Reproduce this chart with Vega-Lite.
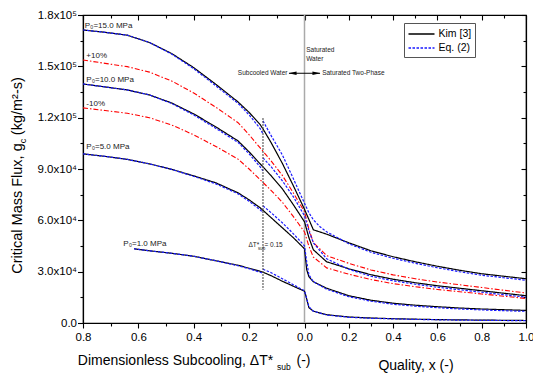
{
"$schema": "https://vega.github.io/schema/vega-lite/v6.json",
"width": 443, "height": 308,
"autosize": {"type": "none"},
"padding": {"left": 83, "top": 15, "right": 7, "bottom": 51},
"config": {"font": "Liberation Sans", "view": {"stroke": "black", "strokeWidth": 1.2},
  "axis": {"grid": false, "domainColor": "black", "domainWidth": 1.2, "tickColor": "black", "tickWidth": 1.1, "labelColor": "black", "titleColor": "black", "titleFontWeight": "normal", "labelFont": "Liberation Sans", "titleFont": "Liberation Sans", "labelFlush": false, "labelOverlap": false}},
"title": {"text": "sub", "frame": "group", "anchor": "start", "orient": "top", "offset": 0, "dx": 194, "dy": 369, "fontSize": 8.5, "fontWeight": "normal", "baseline": "alphabetic", "color": "black"},
"datasets": {
"main": [
{"m":"Kim [3]","s":"K15","u":-1,"g":171229},{"m":"Kim [3]","s":"K15","u":-0.9,"g":169886},{"m":"Kim [3]","s":"K15","u":-0.8,"g":168193},{"m":"Kim [3]","s":"K15","u":-0.7,"g":163931},{"m":"Kim [3]","s":"K15","u":-0.6,"g":157510},{"m":"Kim [3]","s":"K15","u":-0.5,"g":149217},{"m":"Kim [3]","s":"K15","u":-0.4,"g":139470},{"m":"Kim [3]","s":"K15","u":-0.3,"g":129193},{"m":"Kim [3]","s":"K15","u":-0.25,"g":123065},{"m":"Kim [3]","s":"K15","u":-0.2,"g":115924},{"m":"Kim [3]","s":"K15","u":-0.1875,"g":113432},{"m":"Kim [3]","s":"K15","u":-0.15,"g":105260},{"m":"Kim [3]","s":"K15","u":-0.1,"g":93292},{"m":"Kim [3]","s":"K15","u":-0.05,"g":80106},{"m":"Kim [3]","s":"K15","u":0,"g":66437},{"m":"Kim [3]","s":"K15","u":0.04,"g":54469},{"m":"Kim [3]","s":"K15","u":0.1,"g":51900},{"m":"Kim [3]","s":"K15","u":0.2,"g":46879},{"m":"Kim [3]","s":"K15","u":0.3,"g":42209},{"m":"Kim [3]","s":"K15","u":0.4,"g":38706},{"m":"Kim [3]","s":"K15","u":0.5,"g":35787},{"m":"Kim [3]","s":"K15","u":0.6,"g":33160},{"m":"Kim [3]","s":"K15","u":0.7,"g":30825},{"m":"Kim [3]","s":"K15","u":0.8,"g":28781},{"m":"Kim [3]","s":"K15","u":0.9,"g":27322},{"m":"Kim [3]","s":"K15","u":1,"g":25862},
{"m":"Kim [3]","s":"K10","u":-1,"g":139703},{"m":"Kim [3]","s":"K10","u":-0.9,"g":137951},{"m":"Kim [3]","s":"K10","u":-0.8,"g":136201},{"m":"Kim [3]","s":"K10","u":-0.7,"g":133282},{"m":"Kim [3]","s":"K10","u":-0.6,"g":128611},{"m":"Kim [3]","s":"K10","u":-0.5,"g":122190},{"m":"Kim [3]","s":"K10","u":-0.4,"g":114600},{"m":"Kim [3]","s":"K10","u":-0.3,"g":106427},{"m":"Kim [3]","s":"K10","u":-0.25,"g":100005},{"m":"Kim [3]","s":"K10","u":-0.2,"g":93000},{"m":"Kim [3]","s":"K10","u":-0.1875,"g":91248},{"m":"Kim [3]","s":"K10","u":-0.15,"g":85994},{"m":"Kim [3]","s":"K10","u":-0.1,"g":78404},{"m":"Kim [3]","s":"K10","u":-0.05,"g":69063},{"m":"Kim [3]","s":"K10","u":0,"g":59139},{"m":"Kim [3]","s":"K10","u":0.02,"g":49798},{"m":"Kim [3]","s":"K10","u":0.04,"g":42793},{"m":"Kim [3]","s":"K10","u":0.1,"g":35787},{"m":"Kim [3]","s":"K10","u":0.2,"g":31700},{"m":"Kim [3]","s":"K10","u":0.3,"g":28197},{"m":"Kim [3]","s":"K10","u":0.4,"g":25570},{"m":"Kim [3]","s":"K10","u":0.5,"g":23527},{"m":"Kim [3]","s":"K10","u":0.6,"g":21775},{"m":"Kim [3]","s":"K10","u":0.7,"g":20316},{"m":"Kim [3]","s":"K10","u":0.8,"g":18857},{"m":"Kim [3]","s":"K10","u":0.9,"g":17397},{"m":"Kim [3]","s":"K10","u":1,"g":15938},
{"m":"Kim [3]","s":"K5","u":-1,"g":98837},{"m":"Kim [3]","s":"K5","u":-0.9,"g":97378},{"m":"Kim [3]","s":"K5","u":-0.8,"g":95626},{"m":"Kim [3]","s":"K5","u":-0.7,"g":92999},{"m":"Kim [3]","s":"K5","u":-0.6,"g":89788},{"m":"Kim [3]","s":"K5","u":-0.5,"g":85993},{"m":"Kim [3]","s":"K5","u":-0.4,"g":81907},{"m":"Kim [3]","s":"K5","u":-0.3,"g":76069},{"m":"Kim [3]","s":"K5","u":-0.25,"g":71983},{"m":"Kim [3]","s":"K5","u":-0.2,"g":67312},{"m":"Kim [3]","s":"K5","u":-0.1875,"g":65853},{"m":"Kim [3]","s":"K5","u":-0.15,"g":61474},{"m":"Kim [3]","s":"K5","u":-0.1,"g":55636},{"m":"Kim [3]","s":"K5","u":-0.05,"g":49798},{"m":"Kim [3]","s":"K5","u":0,"g":43376},{"m":"Kim [3]","s":"K5","u":0.01,"g":31117},{"m":"Kim [3]","s":"K5","u":0.02,"g":27030},{"m":"Kim [3]","s":"K5","u":0.04,"g":24111},{"m":"Kim [3]","s":"K5","u":0.1,"g":20316},{"m":"Kim [3]","s":"K5","u":0.2,"g":15938},{"m":"Kim [3]","s":"K5","u":0.3,"g":13311},{"m":"Kim [3]","s":"K5","u":0.4,"g":11559},{"m":"Kim [3]","s":"K5","u":0.5,"g":10392},{"m":"Kim [3]","s":"K5","u":0.6,"g":9516},{"m":"Kim [3]","s":"K5","u":0.7,"g":8757},{"m":"Kim [3]","s":"K5","u":0.8,"g":8173},{"m":"Kim [3]","s":"K5","u":0.9,"g":7765},{"m":"Kim [3]","s":"K5","u":1,"g":7356},
{"m":"Kim [3]","s":"K1","u":-0.77,"g":43376},{"m":"Kim [3]","s":"K1","u":-0.7,"g":42209},{"m":"Kim [3]","s":"K1","u":-0.6,"g":40749},{"m":"Kim [3]","s":"K1","u":-0.5,"g":38998},{"m":"Kim [3]","s":"K1","u":-0.4,"g":36371},{"m":"Kim [3]","s":"K1","u":-0.3,"g":33744},{"m":"Kim [3]","s":"K1","u":-0.25,"g":31992},{"m":"Kim [3]","s":"K1","u":-0.2,"g":30241},{"m":"Kim [3]","s":"K1","u":-0.1875,"g":29657},{"m":"Kim [3]","s":"K1","u":-0.15,"g":27614},{"m":"Kim [3]","s":"K1","u":-0.1,"g":24403},{"m":"Kim [3]","s":"K1","u":-0.05,"g":21484},{"m":"Kim [3]","s":"K1","u":0,"g":18565},{"m":"Kim [3]","s":"K1","u":0.005,"g":16522},{"m":"Kim [3]","s":"K1","u":0.02,"g":8932},{"m":"Kim [3]","s":"K1","u":0.04,"g":6889},{"m":"Kim [3]","s":"K1","u":0.1,"g":4845},{"m":"Kim [3]","s":"K1","u":0.2,"g":3503},{"m":"Kim [3]","s":"K1","u":0.3,"g":2919},{"m":"Kim [3]","s":"K1","u":0.4,"g":2510},{"m":"Kim [3]","s":"K1","u":0.5,"g":2218},{"m":"Kim [3]","s":"K1","u":0.6,"g":1985},{"m":"Kim [3]","s":"K1","u":0.7,"g":1810},{"m":"Kim [3]","s":"K1","u":0.8,"g":1693},{"m":"Kim [3]","s":"K1","u":0.9,"g":1576},{"m":"Kim [3]","s":"K1","u":1,"g":1460},
{"m":"Eq. (2)","s":"E15a","u":-1,"g":171229},{"m":"Eq. (2)","s":"E15a","u":-0.9,"g":169886},{"m":"Eq. (2)","s":"E15a","u":-0.8,"g":168193},{"m":"Eq. (2)","s":"E15a","u":-0.7,"g":163931},{"m":"Eq. (2)","s":"E15a","u":-0.6,"g":157218},{"m":"Eq. (2)","s":"E15a","u":-0.5,"g":148633},{"m":"Eq. (2)","s":"E15a","u":-0.4,"g":138594},{"m":"Eq. (2)","s":"E15a","u":-0.3,"g":128317},{"m":"Eq. (2)","s":"E15a","u":-0.25,"g":121605},{"m":"Eq. (2)","s":"E15a","u":-0.2,"g":113589},{"m":"Eq. (2)","s":"E15a","u":-0.1875,"g":110513},
{"m":"Eq. (2)","s":"E15b","u":-0.1875,"g":118105},{"m":"Eq. (2)","s":"E15b","u":-0.15,"g":109348},{"m":"Eq. (2)","s":"E15b","u":-0.1,"g":98256},{"m":"Eq. (2)","s":"E15b","u":-0.05,"g":84243},{"m":"Eq. (2)","s":"E15b","u":0,"g":69939},{"m":"Eq. (2)","s":"E15b","u":0.02,"g":64393},{"m":"Eq. (2)","s":"E15b","u":0.04,"g":60306},{"m":"Eq. (2)","s":"E15b","u":0.07,"g":56220},{"m":"Eq. (2)","s":"E15b","u":0.1,"g":53301},{"m":"Eq. (2)","s":"E15b","u":0.15,"g":49798},{"m":"Eq. (2)","s":"E15b","u":0.2,"g":46295},{"m":"Eq. (2)","s":"E15b","u":0.3,"g":41333},{"m":"Eq. (2)","s":"E15b","u":0.4,"g":37830},{"m":"Eq. (2)","s":"E15b","u":0.5,"g":34911},{"m":"Eq. (2)","s":"E15b","u":0.6,"g":32284},{"m":"Eq. (2)","s":"E15b","u":0.7,"g":29949},{"m":"Eq. (2)","s":"E15b","u":0.8,"g":27906},{"m":"Eq. (2)","s":"E15b","u":0.9,"g":26446},{"m":"Eq. (2)","s":"E15b","u":1,"g":24986},
{"m":"Eq. (2)","s":"E10a","u":-1,"g":139703},{"m":"Eq. (2)","s":"E10a","u":-0.9,"g":137951},{"m":"Eq. (2)","s":"E10a","u":-0.8,"g":136201},{"m":"Eq. (2)","s":"E10a","u":-0.7,"g":133282},{"m":"Eq. (2)","s":"E10a","u":-0.6,"g":128319},{"m":"Eq. (2)","s":"E10a","u":-0.5,"g":121606},{"m":"Eq. (2)","s":"E10a","u":-0.4,"g":113724},{"m":"Eq. (2)","s":"E10a","u":-0.3,"g":105551},{"m":"Eq. (2)","s":"E10a","u":-0.25,"g":98837},{"m":"Eq. (2)","s":"E10a","u":-0.2,"g":91248},{"m":"Eq. (2)","s":"E10a","u":-0.1875,"g":88912},
{"m":"Eq. (2)","s":"E10b","u":-0.1875,"g":96502},{"m":"Eq. (2)","s":"E10b","u":-0.15,"g":91248},{"m":"Eq. (2)","s":"E10b","u":-0.1,"g":83075},{"m":"Eq. (2)","s":"E10b","u":-0.05,"g":73734},{"m":"Eq. (2)","s":"E10b","u":0,"g":62641},{"m":"Eq. (2)","s":"E10b","u":0.02,"g":53884},{"m":"Eq. (2)","s":"E10b","u":0.04,"g":46879},{"m":"Eq. (2)","s":"E10b","u":0.1,"g":37538},{"m":"Eq. (2)","s":"E10b","u":0.2,"g":31408},{"m":"Eq. (2)","s":"E10b","u":0.3,"g":27322},{"m":"Eq. (2)","s":"E10b","u":0.4,"g":24695},{"m":"Eq. (2)","s":"E10b","u":0.5,"g":22651},{"m":"Eq. (2)","s":"E10b","u":0.6,"g":20900},{"m":"Eq. (2)","s":"E10b","u":0.7,"g":19440},{"m":"Eq. (2)","s":"E10b","u":0.8,"g":17981},{"m":"Eq. (2)","s":"E10b","u":0.9,"g":16521},{"m":"Eq. (2)","s":"E10b","u":1,"g":15062},
{"m":"Eq. (2)","s":"E5a","u":-1,"g":98837},{"m":"Eq. (2)","s":"E5a","u":-0.9,"g":97378},{"m":"Eq. (2)","s":"E5a","u":-0.8,"g":95626},{"m":"Eq. (2)","s":"E5a","u":-0.7,"g":92999},{"m":"Eq. (2)","s":"E5a","u":-0.6,"g":89788},{"m":"Eq. (2)","s":"E5a","u":-0.5,"g":85701},{"m":"Eq. (2)","s":"E5a","u":-0.4,"g":81323},{"m":"Eq. (2)","s":"E5a","u":-0.3,"g":75486},{"m":"Eq. (2)","s":"E5a","u":-0.25,"g":71107},{"m":"Eq. (2)","s":"E5a","u":-0.2,"g":66145},{"m":"Eq. (2)","s":"E5a","u":-0.1875,"g":64393},
{"m":"Eq. (2)","s":"E5b","u":-0.1875,"g":68480},{"m":"Eq. (2)","s":"E5b","u":-0.15,"g":64393},{"m":"Eq. (2)","s":"E5b","u":-0.1,"g":58554},{"m":"Eq. (2)","s":"E5b","u":-0.05,"g":52132},{"m":"Eq. (2)","s":"E5b","u":0,"g":45128},{"m":"Eq. (2)","s":"E5b","u":0.01,"g":35787},{"m":"Eq. (2)","s":"E5b","u":0.02,"g":28197},{"m":"Eq. (2)","s":"E5b","u":0.04,"g":24111},{"m":"Eq. (2)","s":"E5b","u":0.1,"g":19732},{"m":"Eq. (2)","s":"E5b","u":0.2,"g":15354},{"m":"Eq. (2)","s":"E5b","u":0.3,"g":12727},{"m":"Eq. (2)","s":"E5b","u":0.4,"g":10975},{"m":"Eq. (2)","s":"E5b","u":0.5,"g":9808},{"m":"Eq. (2)","s":"E5b","u":0.6,"g":8932},{"m":"Eq. (2)","s":"E5b","u":0.7,"g":8231},{"m":"Eq. (2)","s":"E5b","u":0.8,"g":7648},{"m":"Eq. (2)","s":"E5b","u":0.9,"g":7181},{"m":"Eq. (2)","s":"E5b","u":1,"g":6830},
{"m":"Eq. (2)","s":"E1a","u":-0.77,"g":43376},{"m":"Eq. (2)","s":"E1a","u":-0.7,"g":42209},{"m":"Eq. (2)","s":"E1a","u":-0.6,"g":40749},{"m":"Eq. (2)","s":"E1a","u":-0.5,"g":38998},{"m":"Eq. (2)","s":"E1a","u":-0.4,"g":36371},{"m":"Eq. (2)","s":"E1a","u":-0.3,"g":33452},{"m":"Eq. (2)","s":"E1a","u":-0.25,"g":31700},{"m":"Eq. (2)","s":"E1a","u":-0.2,"g":29657},{"m":"Eq. (2)","s":"E1a","u":-0.1875,"g":29073},
{"m":"Eq. (2)","s":"E1b","u":-0.1875,"g":31408},{"m":"Eq. (2)","s":"E1b","u":-0.15,"g":29365},{"m":"Eq. (2)","s":"E1b","u":-0.1,"g":25862},{"m":"Eq. (2)","s":"E1b","u":-0.05,"g":22360},{"m":"Eq. (2)","s":"E1b","u":0,"g":18857},{"m":"Eq. (2)","s":"E1b","u":0.005,"g":16522},{"m":"Eq. (2)","s":"E1b","u":0.02,"g":9516},{"m":"Eq. (2)","s":"E1b","u":0.04,"g":6889},{"m":"Eq. (2)","s":"E1b","u":0.1,"g":4670},{"m":"Eq. (2)","s":"E1b","u":0.2,"g":3328},{"m":"Eq. (2)","s":"E1b","u":0.3,"g":2744},{"m":"Eq. (2)","s":"E1b","u":0.5,"g":2102},{"m":"Eq. (2)","s":"E1b","u":0.7,"g":1693},{"m":"Eq. (2)","s":"E1b","u":1,"g":1343}
],
"red": [
{"s":"+10%","u":-1,"g":153673},{"s":"+10%","u":-0.9,"g":151746},{"s":"+10%","u":-0.8,"g":149821},{"s":"+10%","u":-0.7,"g":146610},{"s":"+10%","u":-0.6,"g":141472},{"s":"+10%","u":-0.5,"g":134409},{"s":"+10%","u":-0.4,"g":126060},{"s":"+10%","u":-0.3,"g":117070},{"s":"+10%","u":-0.25,"g":110006},{"s":"+10%","u":-0.2,"g":102300},{"s":"+10%","u":-0.15,"g":94593},{"s":"+10%","u":-0.1,"g":86244},{"s":"+10%","u":-0.05,"g":75969},{"s":"+10%","u":0,"g":65053},{"s":"+10%","u":0.02,"g":54778},{"s":"+10%","u":0.04,"g":47072},{"s":"+10%","u":0.1,"g":39366},{"s":"+10%","u":0.2,"g":34870},{"s":"+10%","u":0.3,"g":31017},{"s":"+10%","u":0.4,"g":28127},{"s":"+10%","u":0.5,"g":25880},{"s":"+10%","u":0.6,"g":23953},{"s":"+10%","u":0.7,"g":22348},{"s":"+10%","u":0.8,"g":20743},{"s":"+10%","u":0.9,"g":19137},{"s":"+10%","u":1,"g":17532},
{"s":"-10%","u":-1,"g":125733},{"s":"-10%","u":-0.9,"g":124156},{"s":"-10%","u":-0.8,"g":122581},{"s":"-10%","u":-0.7,"g":119954},{"s":"-10%","u":-0.6,"g":115750},{"s":"-10%","u":-0.5,"g":109971},{"s":"-10%","u":-0.4,"g":103140},{"s":"-10%","u":-0.3,"g":95784},{"s":"-10%","u":-0.25,"g":90005},{"s":"-10%","u":-0.2,"g":83700},{"s":"-10%","u":-0.15,"g":77395},{"s":"-10%","u":-0.1,"g":70564},{"s":"-10%","u":-0.05,"g":62157},{"s":"-10%","u":0,"g":53225},{"s":"-10%","u":0.02,"g":44818},{"s":"-10%","u":0.04,"g":38514},{"s":"-10%","u":0.1,"g":32208},{"s":"-10%","u":0.2,"g":28530},{"s":"-10%","u":0.3,"g":25377},{"s":"-10%","u":0.4,"g":23013},{"s":"-10%","u":0.5,"g":21174},{"s":"-10%","u":0.6,"g":19598},{"s":"-10%","u":0.7,"g":18284},{"s":"-10%","u":0.8,"g":16971},{"s":"-10%","u":0.9,"g":15657},{"s":"-10%","u":1,"g":14344}
],
"plab": [
{"u":-0.992,"g":173850,"t":"P₀=15.0 MPa"},{"u":-0.985,"g":155870,"t":"+10%"},{"u":-0.985,"g":141860,"t":"P₀=10.0 MPa"},{"u":-0.985,"g":127730,"t":"-10%"},{"u":-0.985,"g":102920,"t":"P₀=5.0 MPa"},{"u":-0.818,"g":46290,"t":"P₀=1.0 MPa"}
],
"small": [
{"u":0.0077,"g":159550,"t":"Saturated"},{"u":0.0077,"g":154480,"t":"Water"},{"u":0.0796,"g":145950,"t":"Saturated Two-Phase"}
]
},
"layer": [
{"data": {"values": [{"u": 0}]}, "mark": {"type": "rule", "color": "#aaaaaa", "strokeWidth": 1.5},
 "encoding": {"x": {"field": "u", "type": "quantitative", "scale": {"domain": [-1, 1], "nice": false, "zero": false}, "axis": null}}},
{"data": {"name": "red"}, "mark": {"type": "line", "color": "#ff0000", "strokeWidth": 1.1, "strokeDash": [5, 2, 1.5, 2]},
 "encoding": {
  "x": {"field": "u", "type": "quantitative", "scale": {"domain": [-1, 1], "nice": false, "zero": false},
    "axis": {"orient": "top", "values": [-1,-0.875,-0.75,-0.625,-0.5,-0.375,-0.25,-0.125,0,0.1,0.2,0.3,0.4,0.5,0.6,0.7,0.8,0.9,1], "labels": false,
      "tickSize": {"condition": {"test": "indexof([-0.875,-0.625,-0.375,-0.125,0.1,0.3,0.5,0.7,0.9], datum.value) >= 0", "value": -3}, "value": -5},
      "title": "Quality, x (-)", "titleFontSize": 14, "titleX": 332.5, "titleY": 354, "titleAlign": "center", "titleBaseline": "alphabetic", "titleAngle": 0}},
  "y": {"field": "g", "type": "quantitative", "scale": {"domain": [0, 180000], "nice": false, "zero": false},
    "axis": {"orient": "right", "values": [0,15000,30000,45000,60000,75000,90000,105000,120000,135000,150000,165000,180000], "labels": false,
      "tickSize": {"condition": {"test": "datum.value % 30000 != 0", "value": -3}, "value": -5},
      "title": "c", "titleFontSize": 9, "titleAngle": -90, "titleX": -504, "titleY": 125.5, "titleAlign": "center", "titleBaseline": "middle"}},
  "detail": {"field": "s"}}},
{"data": {"name": "main"}, "mark": {"type": "line", "strokeWidth": 1.2},
 "encoding": {
  "x": {"field": "u", "type": "quantitative", "scale": {"domain": [-1, 1], "nice": false, "zero": false},
    "axis": {"orient": "bottom", "values": [-1,-0.875,-0.75,-0.625,-0.5,-0.375,-0.25,-0.125,0,0.1,0.2,0.3,0.4,0.5,0.6,0.7,0.8,0.9,1],
      "labelExpr": "indexof([-0.875,-0.625,-0.375,-0.125,0.1,0.3,0.5,0.7,0.9], datum.value) >= 0 ? '' : (datum.value < 0 ? format(-datum.value*0.8, '.1f') : format(datum.value, '.1f'))",
      "tickSize": {"condition": {"test": "indexof([-0.875,-0.625,-0.375,-0.125,0.1,0.3,0.5,0.7,0.9], datum.value) >= 0", "value": 3}, "value": 5},
      "labelFontSize": 11.5, "labelPadding": 3.5,
      "title": "Dimensionless Subcooling, ΔT*\u00a0\u00a0\u00a0\u00a0\u00a0\u00a0(-)", "titleFontSize": 14, "titleAlign": "left", "titleX": -5.7, "titleY": 41.7, "titleBaseline": "alphabetic"}},
  "y": {"field": "g", "type": "quantitative", "scale": {"domain": [0, 180000], "nice": false, "zero": false},
    "axis": {"orient": "left", "values": [0,15000,30000,45000,60000,75000,90000,105000,120000,135000,150000,165000,180000],
      "labelExpr": "datum.value % 30000 != 0 ? '' : (datum.value == 0 ? '0.0' : (datum.value < 100000 ? format(datum.value/10000, '.1f') + 'x10⁴' : format(datum.value/100000, '.1f') + 'x10⁵'))",
      "tickSize": {"condition": {"test": "datum.value % 30000 != 0", "value": 3}, "value": 5.5},
      "labelFontSize": 11.5, "labelPadding": 1,
      "title": "Critical Mass Flux, g\u00a0\u00a0(kg/m²-s)", "titleFontSize": 14.5, "titleAngle": -90, "titleX": -66, "titleY": 160, "titleAlign": "center", "titleBaseline": "middle"}},
  "color": {"field": "m", "type": "nominal", "scale": {"domain": ["Kim [3]", "Eq. (2)"], "range": ["#000000", "#1a1aff"]},
    "legend": {"title": null, "orient": "none", "legendX": 321, "legendY": 8, "strokeColor": "#555555", "fillColor": "white", "padding": 3.5, "symbolType": "M-1,0L3,0", "symbolSize": 169, "symbolStrokeWidth": 1.3, "labelFontSize": 10.5, "labelColor": "black", "rowPadding": 1, "labelOffset": 16}},
  "strokeDash": {"field": "m", "type": "nominal", "scale": {"domain": ["Kim [3]", "Eq. (2)"], "range": [[1, 0], [2.5, 1.5]]},
    "legend": {"title": null, "orient": "none", "legendX": 321, "legendY": 8, "strokeColor": "#555555", "fillColor": "white", "padding": 3.5, "symbolType": "M-1,0L3,0", "symbolSize": 169, "symbolStrokeWidth": 1.3, "labelFontSize": 10.5, "labelColor": "black", "rowPadding": 1, "labelOffset": 16}},
  "detail": {"field": "s"}}},
{"data": {"values": [{"u": -0.1875, "g1": 119700, "g2": 19400}]}, "mark": {"type": "rule", "color": "#555555", "strokeWidth": 1.5, "strokeDash": [1.5, 1.5]},
 "encoding": {"x": {"field": "u", "type": "quantitative", "scale": {"domain": [-1, 1], "nice": false, "zero": false}, "axis": null},
  "y": {"field": "g1", "type": "quantitative", "scale": {"domain": [0, 180000], "nice": false, "zero": false}, "axis": null}, "y2": {"field": "g2"}}},
{"data": {"values": [{"u1": -0.07, "u2": 0.07, "g": 145950}]}, "mark": {"type": "rule", "color": "black", "strokeWidth": 1},
 "encoding": {"x": {"field": "u1", "type": "quantitative", "scale": {"domain": [-1, 1], "nice": false, "zero": false}, "axis": null}, "x2": {"field": "u2"},
  "y": {"field": "g", "type": "quantitative", "scale": {"domain": [0, 180000], "nice": false, "zero": false}, "axis": null}}},
{"data": {"values": [{"u": -0.054, "g": 145950}]}, "mark": {"type": "point", "shape": "M-1,0L1,-0.45L1,0.45Z", "filled": true, "color": "black", "size": 64, "opacity": 1},
 "encoding": {"x": {"field": "u", "type": "quantitative", "scale": {"domain": [-1, 1], "nice": false, "zero": false}, "axis": null},
  "y": {"field": "g", "type": "quantitative", "scale": {"domain": [0, 180000], "nice": false, "zero": false}, "axis": null}}},
{"data": {"values": [{"u": 0.054, "g": 145950}]}, "mark": {"type": "point", "shape": "M1,0L-1,-0.45L-1,0.45Z", "filled": true, "color": "black", "size": 64, "opacity": 1},
 "encoding": {"x": {"field": "u", "type": "quantitative", "scale": {"domain": [-1, 1], "nice": false, "zero": false}, "axis": null},
  "y": {"field": "g", "type": "quantitative", "scale": {"domain": [0, 180000], "nice": false, "zero": false}, "axis": null}}},
{"data": {"name": "plab"}, "mark": {"type": "text", "align": "left", "baseline": "middle", "fontSize": 8, "color": "#222222"},
 "encoding": {"x": {"field": "u", "type": "quantitative", "scale": {"domain": [-1, 1], "nice": false, "zero": false}, "axis": null},
  "y": {"field": "g", "type": "quantitative", "scale": {"domain": [0, 180000], "nice": false, "zero": false}, "axis": null}, "text": {"field": "t"}}},
{"data": {"name": "small"}, "mark": {"type": "text", "align": "left", "baseline": "middle", "fontSize": 6.5, "color": "#222222"},
 "encoding": {"x": {"field": "u", "type": "quantitative", "scale": {"domain": [-1, 1], "nice": false, "zero": false}, "axis": null},
  "y": {"field": "g", "type": "quantitative", "scale": {"domain": [0, 180000], "nice": false, "zero": false}, "axis": null}, "text": {"field": "t"}}},
{"data": {"values": [{"u": -0.077, "g": 145950, "t": "Subcooled Water"}]}, "mark": {"type": "text", "align": "right", "baseline": "middle", "fontSize": 6.5, "color": "#222222"},
 "encoding": {"x": {"field": "u", "type": "quantitative", "scale": {"domain": [-1, 1], "nice": false, "zero": false}, "axis": null},
  "y": {"field": "g", "type": "quantitative", "scale": {"domain": [0, 180000], "nice": false, "zero": false}, "axis": null}, "text": {"field": "t"}}},
{"data": {"values": [{"u": -0.253, "g": 45420, "t": "ΔT*"}, {"u": -0.181, "g": 45420, "t": "= 0.15"}]}, "mark": {"type": "text", "align": "left", "baseline": "middle", "fontSize": 6.5, "color": "#222222"},
 "encoding": {"x": {"field": "u", "type": "quantitative", "scale": {"domain": [-1, 1], "nice": false, "zero": false}, "axis": null},
  "y": {"field": "g", "type": "quantitative", "scale": {"domain": [0, 180000], "nice": false, "zero": false}, "axis": null}, "text": {"field": "t"}}},
{"data": {"values": [{"u": -0.21, "g": 43100, "t": "sub"}]}, "mark": {"type": "text", "align": "left", "baseline": "middle", "fontSize": 4.5, "color": "#222222"},
 "encoding": {"x": {"field": "u", "type": "quantitative", "scale": {"domain": [-1, 1], "nice": false, "zero": false}, "axis": null},
  "y": {"field": "g", "type": "quantitative", "scale": {"domain": [0, 180000], "nice": false, "zero": false}, "axis": null}, "text": {"field": "t"}}}
],
"resolve": {"axis": {"x": "independent", "y": "independent"}}
}
